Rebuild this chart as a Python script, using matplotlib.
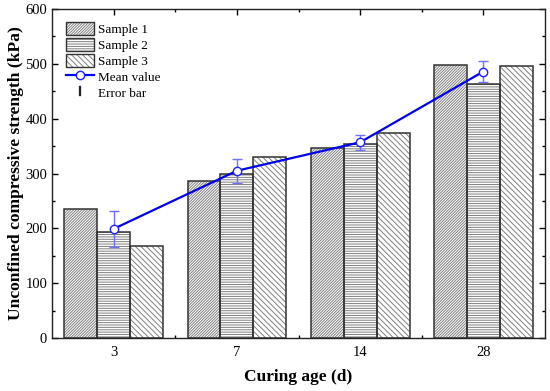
import matplotlib
matplotlib.use("Agg")
import matplotlib.pyplot as plt
import numpy as np
from matplotlib.lines import Line2D
from matplotlib.patches import Patch
from matplotlib.ticker import MultipleLocator, FixedLocator
from matplotlib.legend_handler import HandlerBase
from matplotlib.patches import Rectangle

plt.rcParams['font.family'] = ['Liberation Serif', 'DejaVu Serif']
plt.rcParams['hatch.linewidth'] = 0.7

categories = ['3', '7', '14', '28']
sample1 = [236, 286, 346, 498]
sample2 = [193, 300, 353, 464]
sample3 = [168, 330, 373, 496]
mean_vals = [199, 305, 357, 486]
errors = [33, 22, 14, 19]

fig = plt.figure(figsize=(5.5, 3.91), dpi=100)
ax = fig.add_axes([0.0945, 0.1355, 0.8965, 0.8415])

x = np.arange(len(categories))
w = 0.267
edge = '#333333'
hcol = '#808080'
h1 = '/' * 12
h2 = '-' * 7
h3 = '\\' * 6
styles = [(h1, sample1, -w), (h2, sample2, 0.0), (h3, sample3, w)]
for hatch, vals, off in styles:
    ax.bar(x + off, vals, w, facecolor='white', edgecolor=hcol, hatch=hatch, linewidth=0, zorder=2)
    ax.bar(x + off, vals, w, facecolor='none', edgecolor=edge, linewidth=1.1, zorder=3)

ax.errorbar(x, mean_vals, yerr=errors, fmt='none', ecolor='#7070ff', elinewidth=1.0, capsize=3.5, capthick=1.0, zorder=4)
ax.plot(x, mean_vals, color='#0000ee', linewidth=1.6, marker='o', markersize=6,
        markerfacecolor='white', markeredgecolor='#2020ff', markeredgewidth=1.0, zorder=5)

ax.set_xlim(-0.5, 3.5)
ax.set_ylim(0, 600)
ax.set_xticks(x)
ax.set_xticklabels(categories)
ax.xaxis.set_minor_locator(FixedLocator([0.5, 1.5, 2.5]))
ax.yaxis.set_major_locator(MultipleLocator(100))
ax.yaxis.set_minor_locator(MultipleLocator(50))
ax.tick_params(which='both', direction='in', top=True, right=True, labelsize=10.5, width=1.0)
ax.tick_params(which='major', length=4.5)
ax.tick_params(which='minor', length=2.5)
ax.tick_params(axis='x', pad=6)
for s in ax.spines.values():
    s.set_linewidth(1.0)
    s.set_color('#222222')

ax.set_xlabel('Curing age (d)', fontsize=12.5, fontweight='bold', labelpad=7)
ax.set_ylabel('Unconfined compressive strength (kPa)', fontsize=12.6, fontweight='bold', labelpad=1)


class HatchHandler(HandlerBase):
    def __init__(self, hatch):
        super().__init__()
        self.hatch = hatch

    def create_artists(self, legend, orig_handle, xdescent, ydescent, width, height, fontsize, trans):
        r1 = Rectangle((-xdescent, -ydescent), width, height, facecolor='white', edgecolor=hcol,
                       hatch=self.hatch, linewidth=0, transform=trans)
        r2 = Rectangle((-xdescent, -ydescent), width, height, facecolor='none', edgecolor=edge,
                       linewidth=1.0, transform=trans)
        return [r1, r2]


p1 = Patch(label='Sample 1')
p2 = Patch(label='Sample 2')
p3 = Patch(label='Sample 3')
handles = [
    p1, p2, p3,
    Line2D([0], [0], color='#0000ee', linewidth=1.6, marker='o', markersize=6,
           markerfacecolor='white', markeredgecolor='#2020ff', label='Mean value'),
    Line2D([0], [0], color='none', marker='$\\mathrm{I}$', markersize=7,
           markerfacecolor='#222222', markeredgecolor='#222222', markeredgewidth=0.2, label='Error bar'),
]
ax.legend(handles=handles, loc='upper left', frameon=False, fontsize=9.5,
          handlelength=2.1, handleheight=1.25, handletextpad=0.3, labelspacing=0.12,
          borderaxespad=0.3, bbox_to_anchor=(0.01, 0.99),
          handler_map={p1: HatchHandler(h1), p2: HatchHandler(h2), p3: HatchHandler(h3)})

fig.savefig('out.png', dpi=100)
